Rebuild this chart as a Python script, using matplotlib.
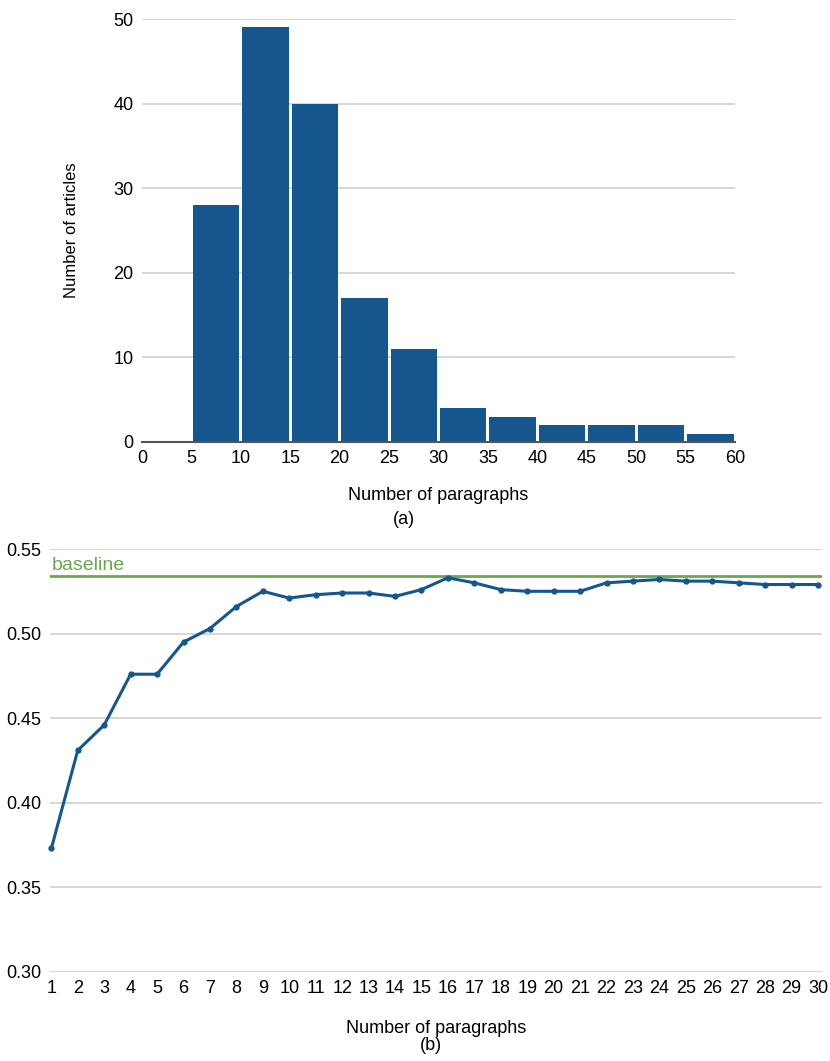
import numpy as np
import matplotlib.pyplot as plt

# (a) histogram of paragraphs per article
bin_edges = [5, 10, 15, 20, 25, 30, 35, 40, 45, 50, 55, 60]
article_counts = [28, 49, 40, 17, 11, 4, 3, 2, 2, 2, 1]

# (b) score vs number of paragraphs
n_paragraphs = list(range(1, 31))
scores = [0.373, 0.431, 0.446, 0.476, 0.476, 0.495, 0.503, 0.516, 0.525, 0.521,
          0.523, 0.524, 0.524, 0.522, 0.526, 0.533, 0.530, 0.526, 0.525, 0.525,
          0.525, 0.530, 0.531, 0.532, 0.531, 0.531, 0.530, 0.529, 0.529, 0.529]
baseline = 0.534

BLUE = '#15568f'
GREEN = '#6aa84f'
GRID = '#d0d0d0'
plt.rcParams['font.family'] = ['Liberation Sans', 'DejaVu Sans']

fig = plt.figure(figsize=(8.3, 10.61), dpi=100)
W, H = 830, 1061


def axes_px(x0, y0, x1, y1):
    return fig.add_axes([x0 / W, 1 - y1 / H, (x1 - x0) / W, (y1 - y0) / H])


# ---- (a) ----
ax1 = axes_px(142, 19, 735, 442)
lefts = np.array(bin_edges[:-1])
widths = np.diff(bin_edges)
ax1.bar(lefts + 0.15, article_counts, width=widths - 0.3, align='edge',
        color=BLUE, zorder=3)
ax1.set_xlim(0, 60)
ax1.set_ylim(0, 50)
ax1.set_xticks(range(0, 61, 5))
ax1.set_yticks(range(0, 51, 10))
ax1.yaxis.grid(True, color=GRID, lw=1.2)
for s in ['top', 'right', 'left']:
    ax1.spines[s].set_visible(False)
ax1.spines['bottom'].set_color('#555555')
ax1.spines['bottom'].set_linewidth(1.5)
ax1.spines['bottom'].set_zorder(4)
ax1.tick_params(length=0, labelsize=13, pad=6)
ax1.set_xlabel('Number of paragraphs', fontsize=13, labelpad=14)
ax1.set_ylabel('Number of articles', fontsize=12, labelpad=25)
fig.text(404 / W, 1 - 520 / H, '(a)', ha='center', va='center', fontsize=13)

# ---- (b) ----
ax2 = axes_px(50, 549, 822, 972)
ax2.set_xlim(0.95, 30.15)
ax2.set_ylim(0.30, 0.55)
ax2.set_yticks(np.arange(0.30, 0.551, 0.05))
ax2.yaxis.set_major_formatter(plt.FormatStrFormatter('%.2f'))
ax2.set_xticks(n_paragraphs)
ax2.yaxis.grid(True, color=GRID, lw=1.2)
for s in ['top', 'right', 'left', 'bottom']:
    ax2.spines[s].set_visible(False)
ax2.tick_params(axis='x', length=0, labelsize=13, pad=6)
ax2.tick_params(axis='y', length=0, labelsize=13, pad=6)
ax2.axhline(baseline, color=GREEN, lw=2, zorder=3)
ax2.text(1.0, baseline + 0.001, 'baseline', color=GREEN, fontsize=14,
         va='bottom', ha='left')
ax2.plot(n_paragraphs, scores, color=BLUE, lw=2.2, marker='o', markersize=3.5,
         zorder=4, clip_on=False)
ax2.set_xlabel('Number of paragraphs', fontsize=13, labelpad=16)
fig.text(431 / W, 1 - 1046 / H, '(b)', ha='center', va='center', fontsize=13)

fig.savefig('out.png', dpi=100)
